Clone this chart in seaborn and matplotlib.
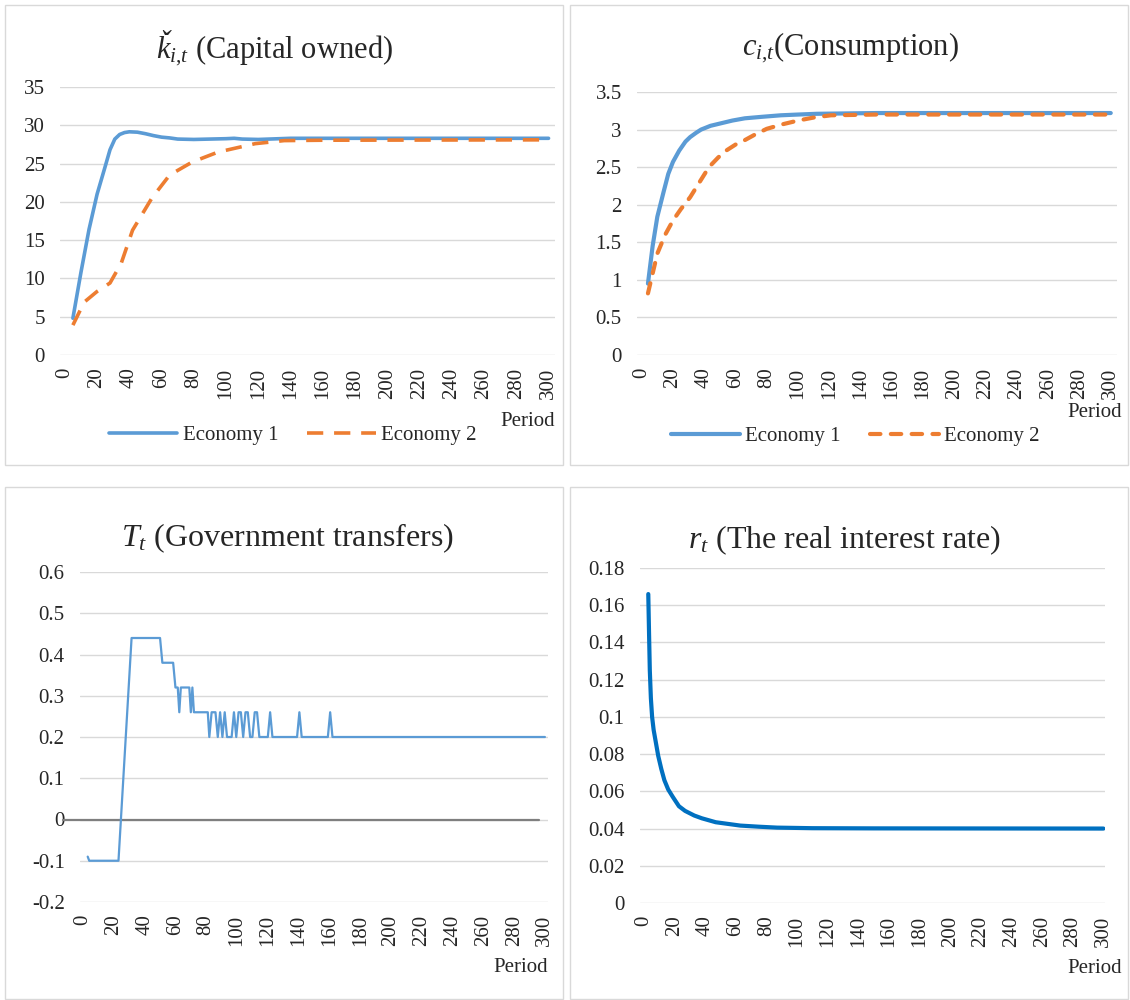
import numpy as np
import matplotlib
matplotlib.use('Agg')
import matplotlib.pyplot as plt
import seaborn as sns
from matplotlib.ticker import FuncFormatter
from matplotlib.patches import Rectangle

# values (period, value)
k1_period = [5, 10, 15, 20, 25, 28, 31, 34, 37, 40, 45, 50, 55, 60, 65, 70, 80, 90, 100, 105, 110, 120, 140, 200, 300]
k1_value = [4.8, 10.8, 16.4, 21.0, 24.6, 26.8, 28.2, 28.8, 29.05, 29.15, 29.1, 28.9, 28.65, 28.45, 28.35, 28.2, 28.15,
            28.2, 28.25, 28.3, 28.2, 28.15, 28.3, 28.3, 28.3]
k2_period = [5, 12, 20, 28, 35, 42, 54, 65, 79, 95, 118, 136, 160, 300]
k2_value = [3.9, 6.9, 8.3, 9.4, 12.0, 16.3, 20.5, 23.5, 25.2, 26.5, 27.6, 28.0, 28.05, 28.1]

c1_period = [4, 7, 10, 14, 17, 20, 24, 28, 31, 35, 38, 44, 50, 58, 66, 77, 89, 100, 112, 150, 300]
c1_value = [0.95, 1.45, 1.84, 2.17, 2.41, 2.57, 2.72, 2.84, 2.9, 2.96, 3.0, 3.05, 3.08, 3.12, 3.15, 3.17, 3.19, 3.2,
            3.21, 3.22, 3.22]
c2_period = [4, 10, 15, 20, 25, 31, 37, 43, 49, 54, 60, 66, 73, 80, 90, 100, 110, 121, 150, 300]
c2_value = [0.82, 1.35, 1.6, 1.79, 1.94, 2.1, 2.3, 2.5, 2.63, 2.72, 2.8, 2.86, 2.94, 3.01, 3.07, 3.12, 3.16, 3.19,
            3.2, 3.2]

t_period = [3, 4, 23, 31.5, 50, 51.5, 58.5, 60, 61.5, 62.5, 63.5, 69, 70, 71, 72, 81, 82, 83.5, 86, 87.5, 89, 90.5,
            92, 93.5, 96.5, 98, 99.5, 101, 102.5, 104, 105.5, 107, 108.5, 110, 111.5, 113, 114.5, 120, 121.5, 123,
            139, 140.5, 142, 159, 160.5, 162, 300]
t_value = [-0.09, -0.1, -0.1, 0.44, 0.44, 0.38, 0.38, 0.32, 0.32, 0.26, 0.32, 0.32, 0.26, 0.32, 0.26, 0.26, 0.2,
           0.26, 0.26, 0.2, 0.26, 0.2, 0.26, 0.2, 0.2, 0.26, 0.2, 0.26, 0.26, 0.2, 0.26, 0.26, 0.2, 0.2, 0.26,
           0.26, 0.2, 0.2, 0.26, 0.2, 0.2, 0.26, 0.2, 0.2, 0.26, 0.2, 0.2]

r_period = [3, 3.5, 4, 4.7, 5.5, 6.5, 8, 9.5, 11.5, 13.5, 16, 19, 23, 27, 33, 38, 47, 55, 63, 75, 87, 110, 150, 300]
r_value = [0.166, 0.145, 0.125, 0.11, 0.1, 0.093, 0.086, 0.079, 0.072, 0.066, 0.061, 0.057, 0.052, 0.0495, 0.047,
           0.0455, 0.0434, 0.0425, 0.0416, 0.041, 0.0405, 0.0402, 0.0401, 0.04]

blue = '#5B9BD5'
orange = '#ED7D31'
dark_blue = '#0070C0'
grid_c = '#d9d9d9'
text_c = '#262626'

sns.set_style('white')
plt.rcParams['font.family'] = ['Liberation Serif', 'DejaVu Serif']
plt.rcParams['mathtext.fontset'] = 'custom'
plt.rcParams['mathtext.rm'] = 'Liberation Serif'
plt.rcParams['mathtext.it'] = 'Liberation Serif:italic'
plt.rcParams['mathtext.bf'] = 'Liberation Serif:bold'
plt.rcParams['text.color'] = text_c
plt.rcParams['xtick.color'] = text_c
plt.rcParams['ytick.color'] = text_c

fig = plt.figure(figsize=(11.3, 10), dpi=100)
W, H = 1130, 1000


def add_ax(left, top, right, bottom):
    return fig.add_axes([left / W, 1 - bottom / H, (right - left) / W, (bottom - top) / H])


def style(ax, ylim, step, xlim, period_xy):
    ax.set_xlim(*xlim)
    ax.set_ylim(*ylim)
    ax.set_xticks(range(0, 301, 20))
    ax.set_yticks(np.arange(ylim[0], ylim[1] + step / 2, step))
    ax.yaxis.set_major_formatter(FuncFormatter(lambda v, p: f'{round(v, 4):g}'))
    ax.tick_params(axis='y', length=0, labelsize=15, pad=11)
    ax.tick_params(axis='x', length=0, labelsize=15, pad=9)
    plt.setp(ax.get_xticklabels(), rotation=90)
    ax.grid(axis='y', color=grid_c, lw=1)
    ax.grid(axis='x', visible=False)
    for s in ax.spines.values():
        s.set_visible(False)
    ax.set_xlabel('')
    ax.set_ylabel('')
    ax.text(period_xy[0], period_xy[1], 'Period', transform=ax.transAxes, ha='right', va='center', fontsize=15)


# panel frames
for x0, y0, x1, y1 in [(5, 5, 563, 465), (570, 5, 1128, 465), (5, 487, 563, 999), (570, 487, 1128, 999)]:
    fig.patches.append(Rectangle((x0 / W, 1 - y1 / H), (x1 - x0) / W, (y1 - y0) / H, transform=fig.transFigure,
                                 fill=False, ec=grid_c, lw=1))

leg_kw = dict(loc='center', ncol=2, frameon=False, fontsize=15, handlelength=3.3, columnspacing=1.4,
              handletextpad=0.25)

# capital owned
ax1 = add_ax(60, 87, 555, 355)
sns.lineplot(x=k1_period, y=k1_value, ax=ax1, color=blue, lw=2.6, label='Economy 1', estimator=None)
sns.lineplot(x=k2_period, y=k2_value, ax=ax1, color=orange, lw=2.6, ls=(0, (4.5, 3)), label='Economy 2',
             estimator=None)
style(ax1, (0, 35), 5, (-3, 304), (1.0, -0.25))
ax1.legend(bbox_to_anchor=(0.47, -0.30), **leg_kw)
fig.text(275 / W, 1 - 48 / H, r'$ǩ_{i{,}t}$ (Capital owned)', ha='center', va='center', fontsize=22)

# consumption
ax2 = add_ax(637, 92, 1117, 355)
sns.lineplot(x=c1_period, y=c1_value, ax=ax2, color=blue, lw=3, label='Economy 1', estimator=None)
sns.lineplot(x=c2_period, y=c2_value, ax=ax2, color=orange, lw=3, ls=(0, (2.5, 2.5)), dash_capstyle='round',
             label='Economy 2', estimator=None)
style(ax2, (0, 3.5), 0.5, (-3, 304), (1.01, -0.22))
ax2.legend(bbox_to_anchor=(0.455, -0.31), **leg_kw)
fig.text(850 / W, 1 - 48 / H, r'$c_{i{,}t}$(Consumption)', ha='center', va='center', fontsize=22)

# government transfers
ax3 = add_ax(80, 572, 548, 902)
ax3.axhline(0, xmin=-0.036, xmax=0.98, color='#7f7f7f', lw=1.6, clip_on=False, zorder=3)
sns.lineplot(x=t_period, y=t_value, ax=ax3, color=blue, lw=1.6, estimator=None, zorder=4)
style(ax3, (-0.2, 0.6), 0.1, (-2, 302), (1.0, -0.2))
fig.text(287 / W, 1 - 538 / H, r'$T_t$ (Government transfers)', ha='center', va='center', fontsize=23)

# real interest rate
ax4 = add_ax(640, 568, 1105, 903)
sns.lineplot(x=r_period, y=r_value, ax=ax4, color=dark_blue, lw=3, estimator=None)
style(ax4, (0, 0.18), 0.02, (-2.4, 301), (1.037, -0.195))
fig.text(845 / W, 1 - 540 / H, r'$r_t$ (The real interest rate)', ha='center', va='center', fontsize=23)

fig.savefig('out.png', dpi=100, facecolor='white')
